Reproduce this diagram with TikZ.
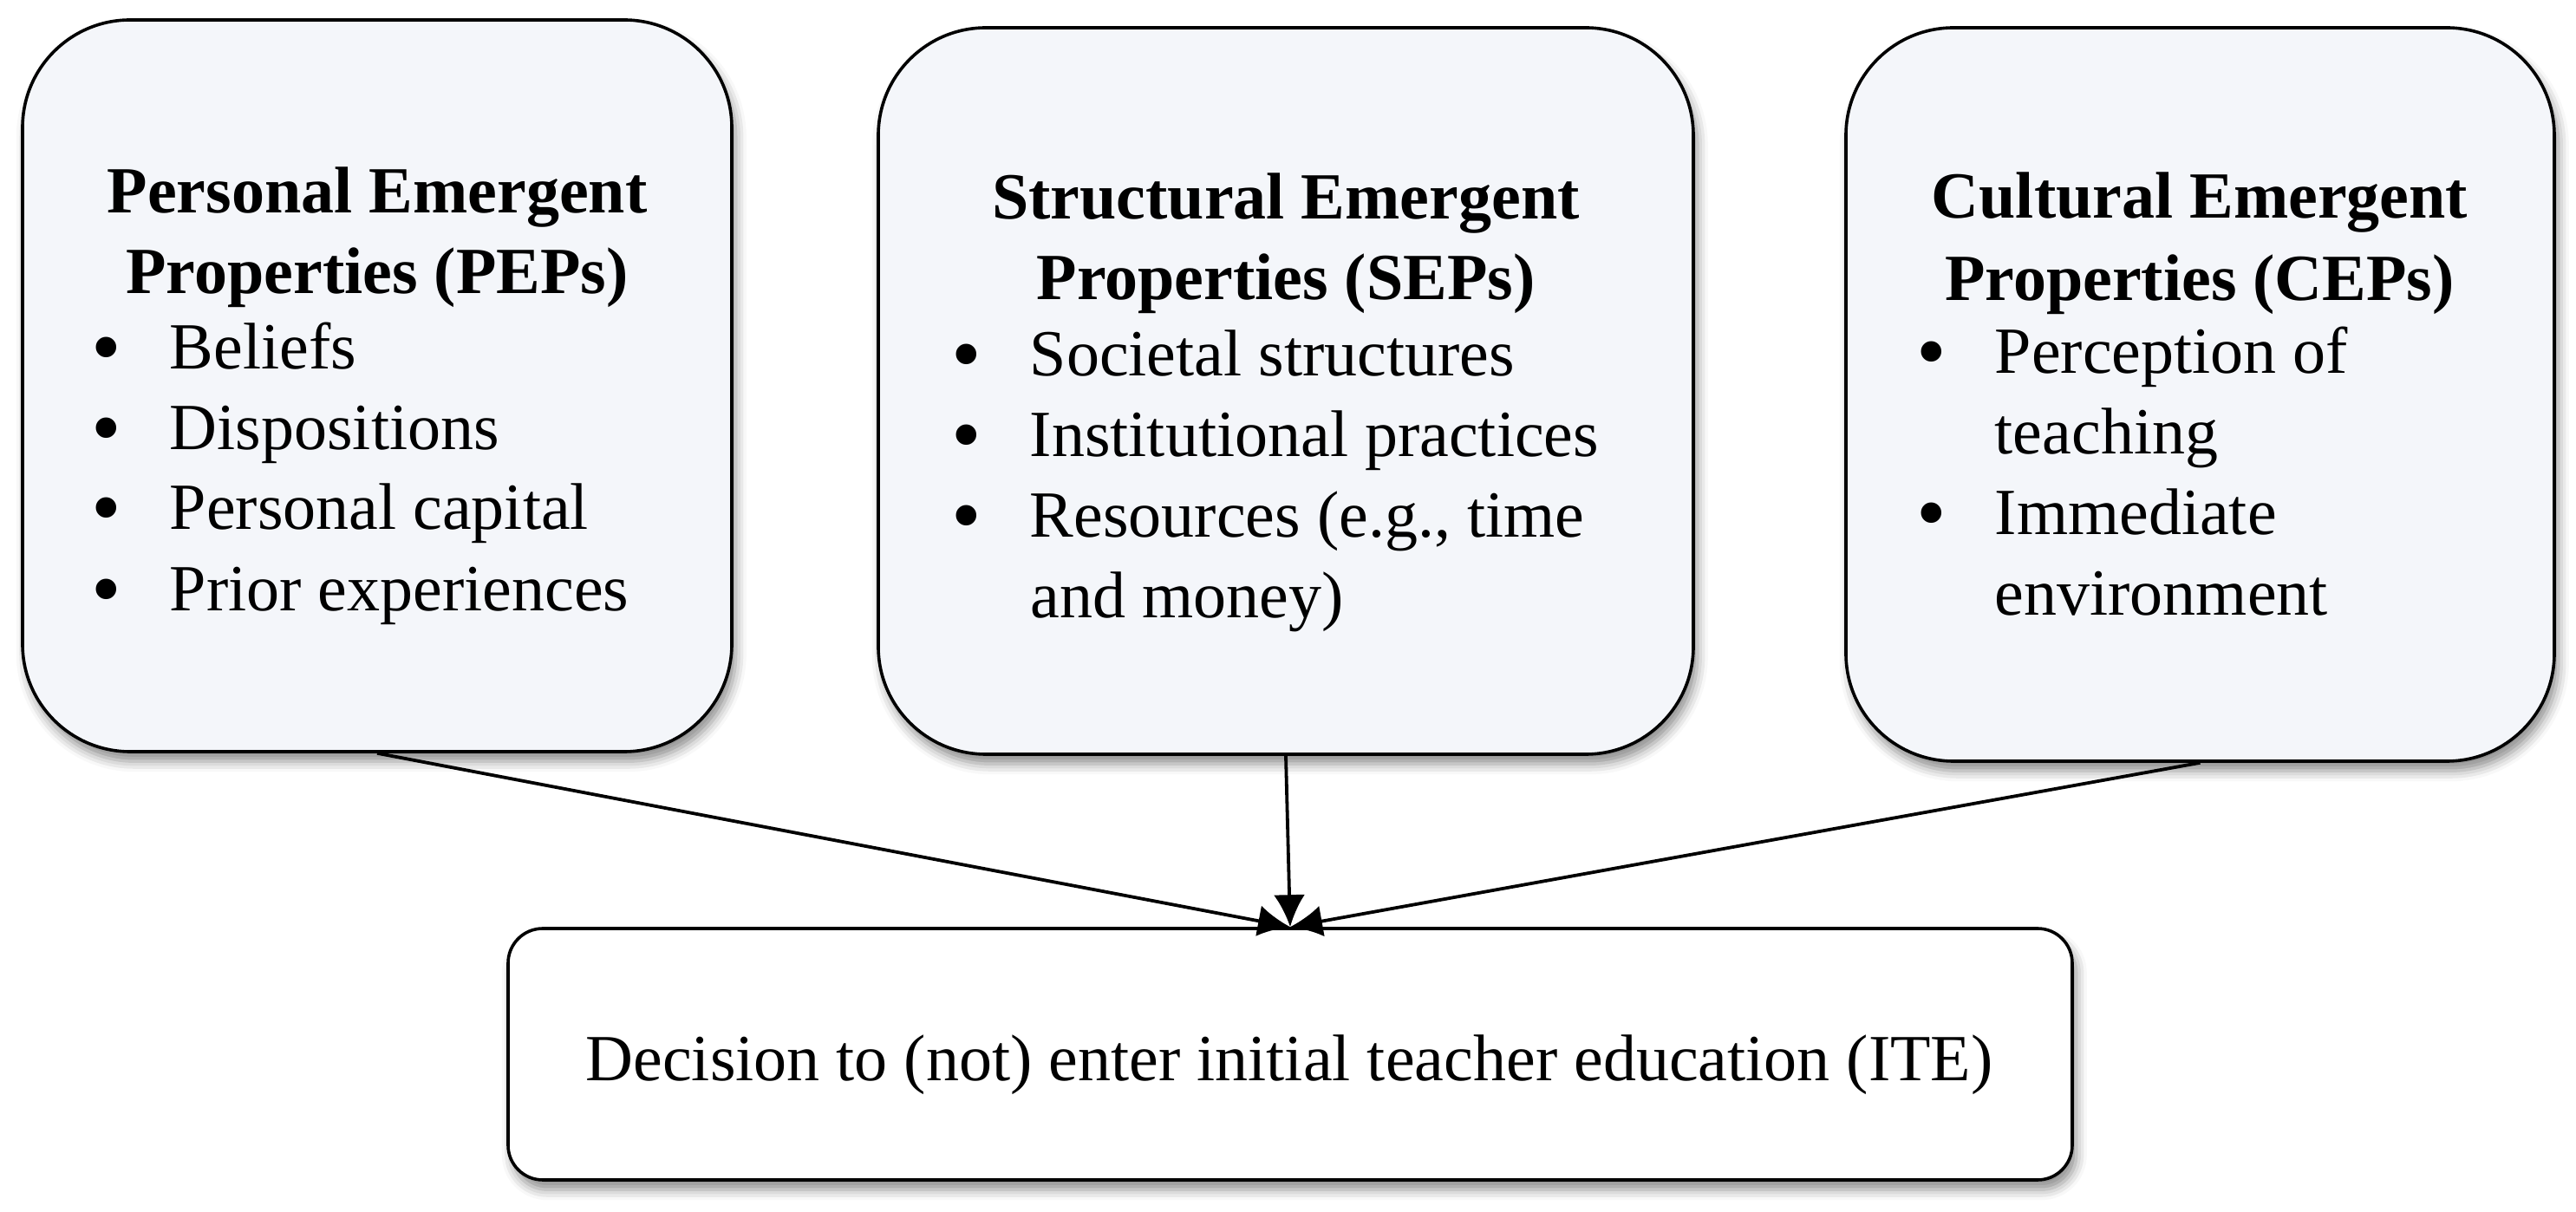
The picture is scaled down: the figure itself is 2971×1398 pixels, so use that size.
\documentclass[tikz,border=0pt]{standalone}
\usepackage{fontspec}
\usepackage{graphicx}
\setmainfont{Liberation Serif}
\usetikzlibrary{arrows.meta,shadows.blur}
\definecolor{boxfill}{RGB}{244,246,250}
\begin{document}
\begin{tikzpicture}[x=0.25pt,y=-0.25pt,
  propbox/.style={draw=black, line width=0.9pt, fill=boxfill, rounded corners=31pt, inner sep=0pt,
    blur shadow={shadow xshift=1.2pt, shadow yshift=-2.8pt, shadow blur radius=3pt, shadow opacity=45}},
  itebox/.style={draw=black, line width=0.9pt, fill=white, rounded corners=10pt, inner sep=0pt,
    blur shadow={shadow xshift=1.2pt, shadow yshift=-2.8pt, shadow blur radius=3pt, shadow opacity=45}},
  txt/.style={inner sep=0pt, font=\fontsize{19pt}{23pt}\selectfont},
  ttl/.style={inner sep=0pt, anchor=base, font=\fontsize{19pt}{23pt}\selectfont\bfseries},
  itm/.style={txt, anchor=base west},
  link/.style={line width=0.95pt, -{Latex[length=9.25pt,width=9pt]}}
]
\useasboundingbox (0,0) rectangle (2971,1398);
\newcommand{\bul}{\hbox to 21.5pt{\hbox to 6.6pt{\hss\raisebox{-1.8pt}{\scalebox{1.3}{\textbullet}}\hss}\hfil}}

% boxes
\node[propbox, minimum width=204.5pt, minimum height=211pt] (pep) at (435,445) {};
\node[propbox, minimum width=235pt, minimum height=209.5pt] (sep) at (1483,451) {};
\node[propbox, minimum width=204.25pt, minimum height=211.5pt] (cep) at (2537.5,455) {};
\node[itebox, minimum width=451pt, minimum height=72.5pt] (ite) at (1488,1216) {};

% PEPs
\node[ttl] (pt1) at (435,246) {Personal Emergent};
\node[ttl] (pt2) at (435,339) {Properties (PEPs)};
\node[itm] (pi1) at (109,426) {\bul Beliefs};
\node[itm] (pi2) at (109,519) {\bul Dispositions};
\node[itm] (pi3) at (109,611) {\bul Personal capital};
\node[itm] (pi4) at (109,705) {\bul Prior experiences};

% SEPs
\node[ttl] (st1) at (1483,253) {Structural Emergent};
\node[ttl] (st2) at (1483,346) {Properties (SEPs)};
\node[itm] (si1) at (1101,434) {\bul Societal structures};
\node[itm] (si2) at (1101,527) {\bul Institutional practices};
\node[itm] (si3) at (1101,620) {\bul Resources (e.g., time};
\node[itm] (si4) at (1188,713) {and money)};

% CEPs
\node[ttl] (ct1) at (2537,252) {Cultural Emergent};
\node[ttl] (ct2) at (2537,347) {Properties (CEPs)};
\node[itm] (ci1) at (2214,431) {\bul Perception of};
\node[itm] (ci2) at (2300,524) {teaching};
\node[itm] (ci3) at (2214,617) {\bul Immediate};
\node[itm] (ci4) at (2300,710) {environment};

% ITE
\node[txt, anchor=base] (itet) at (1487,1247) {Decision to (not) enter initial teacher education (ITE)};

% connectors
\draw[link] (pep.south) -- (ite.north);
\draw[link] (sep.south) -- (ite.north);
\draw[link] (cep.south) -- (ite.north);
\end{tikzpicture}
\end{document}
